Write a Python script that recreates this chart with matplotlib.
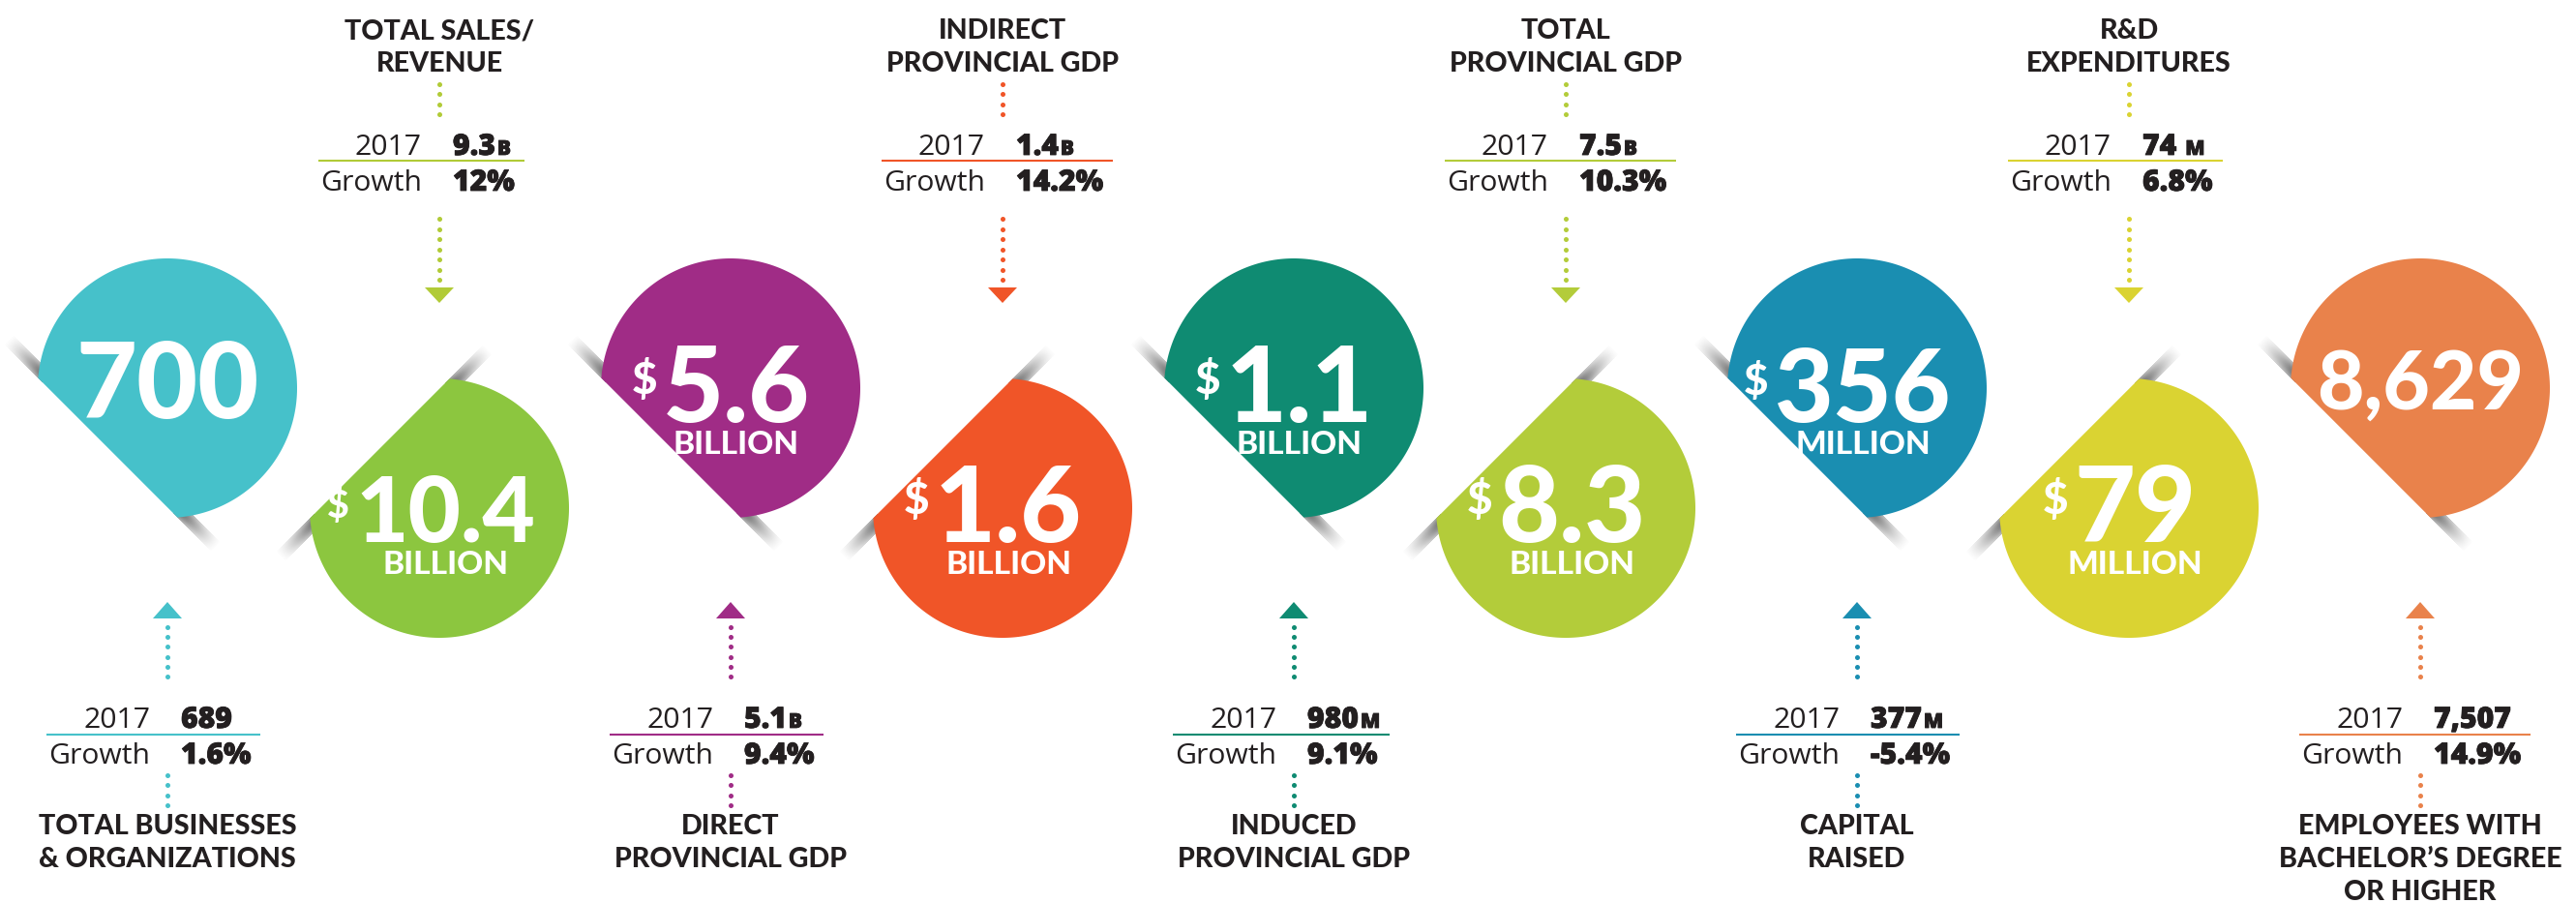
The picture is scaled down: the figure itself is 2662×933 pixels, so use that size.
import numpy as np
import matplotlib
matplotlib.use("Agg")
import matplotlib.pyplot as plt
from matplotlib.patches import Polygon
from matplotlib import font_manager as fm
import matplotlib.patheffects as pe

# ---------------- data ----------------
upper_values = ["700", "5.6", "1.1", "356", "8,629"]
upper_units = ["", "BILLION", "BILLION", "MILLION", ""]
upper_dollar = [False, True, True, True, False]
upper_titles = ["TOTAL BUSINESSES\n& ORGANIZATIONS", "DIRECT\nPROVINCIAL GDP",
                "INDUCED\nPROVINCIAL GDP", "CAPITAL\nRAISED",
                "EMPLOYEES WITH\nBACHELOR’S DEGREE\nOR HIGHER"]
upper_prev = ["689", "5.1", "980", "377", "7,507"]
upper_prev_unit = ["", "B", "M", "M", ""]
upper_growth = ["1.6%", "9.4%", "9.1%", "-5.4%", "14.9%"]

lower_values = ["10.4", "1.6", "8.3", "79"]
lower_units = ["BILLION", "BILLION", "BILLION", "MILLION"]
lower_dollar = [True, True, True, True]
lower_titles = ["TOTAL SALES/\nREVENUE", "INDIRECT\nPROVINCIAL GDP",
                "TOTAL\nPROVINCIAL GDP", "R&D\nEXPENDITURES"]
lower_prev = ["9.3", "1.4", "7.5", "74 "]
lower_prev_unit = ["B", "B", "B", "M"]
lower_growth = ["12%", "14.2%", "10.3%", "6.8%"]

year_label = "2017"
growth_label = "Growth"

# ---------------- style ----------------
upper_colors = ["#46C1CA", "#A02C86", "#0F8B72", "#1A8EB1", "#E9824B"]
lower_colors = ["#8CC63F", "#F05528", "#B3CC3A", "#DAD332"]
lower_line_colors = ["#B1CB37", "#F05528", "#B3CC3A", "#DAD332"]
TEXT = "#231F20"

W, H, DPI = 2662, 933, 100
PT = DPI / 72.0
R = 134.0
UPPER_CY, LOWER_CY = 401.0, 525.0
UPPER_X0, LOWER_X0, STEP = 173.0, 454.0, 582.0


def has_family(name):
    return any(f.name == name for f in fm.fontManager.ttflist)


def max_weight(name):
    ws = []
    for f in fm.fontManager.ttflist:
        if f.name == name:
            w = f.weight
            if isinstance(w, str):
                w = fm.weight_dict.get(w, 400)
            ws.append(int(w))
    return max(ws) if ws else 0


HEAVY = 'Lato' if has_family('Lato') else 'DejaVu Sans'
HEAVY_W = 900 if max_weight(HEAVY) >= 850 else 'bold'
EXTRA = 0.0 if HEAVY_W == 900 else 1.0   # thicken with a stroke if no black weight
BODY = 'Open Sans' if has_family('Open Sans') else ('Lato' if has_family('Lato') else 'DejaVu Sans')
CAP = 0.7165

fig = plt.figure(figsize=(W / DPI, H / DPI), dpi=DPI)
ax = fig.add_axes([0, 0, 1, 1])
ax.set_xlim(0, W)
ax.set_ylim(H, 0)
ax.axis('off')
rend = fig.canvas.get_renderer()


def ext(t):
    return t.get_window_extent(rend)


def thick(color, lw):
    if lw <= 0:
        return []
    return [pe.withStroke(linewidth=lw, foreground=color, capstyle='round', joinstyle='round')]


def fold_shadow(e, direction, n, L=50.0, w=13.0, back=6.0):
    corners = np.array([e - back * direction, e + L * direction,
                        e + L * direction + w * n, e - back * direction + w * n])
    x0, y0 = np.floor(corners.min(0)) - 1
    x1, y1 = np.ceil(corners.max(0)) + 1
    xs = np.arange(x0, x1) + 0.5
    ys = np.arange(y0, y1) + 0.5
    X, Y = np.meshgrid(xs, ys)
    dx, dy = X - e[0], Y - e[1]
    tt = dx * direction[0] + dy * direction[1]
    ss = dx * n[0] + dy * n[1]
    inside = (tt >= -back) & (tt <= L) & (ss >= 0) & (ss <= w)
    a = np.clip(1 - tt / L, 0, 1) ** 1.2 * (0.6 + 0.4 * np.sin(np.pi * np.clip(ss / w, 0, 1)))
    a = np.where(inside, a * 0.85, 0.0)
    img = np.zeros(X.shape + (4,))
    img[..., :3] = 0.33
    img[..., 3] = a
    ax.imshow(img, extent=(x0, x1, y1, y0), origin='upper',
              interpolation='bilinear', zorder=2, aspect='auto')


def sticker(cx, cy, color, t_u, d_ratio=0.65):
    phi = np.arccos(d_ratio)
    t = np.linspace(t_u + phi, t_u + 2 * np.pi - phi, 300)
    pts = np.column_stack([cx + R * np.cos(t), cy + R * np.sin(t)])
    ax.add_patch(Polygon(pts, closed=True, fc=color, ec='none', zorder=3))
    ea, eb = pts[0], pts[-1]
    n = -np.array([np.cos(t_u), np.sin(t_u)])
    da = (ea - eb) / np.linalg.norm(ea - eb)
    fold_shadow(ea, da, n)
    fold_shadow(eb, -da, n)


def big_number(cx, cy, value, unit, dollar):
    fs = 78.0 / (PT * CAP)
    off = 6 if dollar else 0
    t = ax.text(cx + off, 0, value, fontsize=fs, fontfamily=HEAVY, fontweight=HEAVY_W,
                color='white', ha='center', va='baseline', zorder=6,
                path_effects=thick('white', 5.0 * EXTRA))
    ds = None
    if dollar:
        ds = ax.text(0, 0, "$", fontsize=fs * 0.42, fontfamily=HEAVY, fontweight=HEAVY_W,
                     color='white', ha='right', va='baseline', zorder=6,
                     path_effects=thick('white', 2.0 * EXTRA))
    total = ext(t).width + ((ext(ds).width + 6) if ds is not None else 0)
    maxw = 214.0
    if total > maxw:
        fs *= maxw / total
        t.set_fontsize(fs)
        if ds is not None:
            ds.set_fontsize(fs * 0.42)
    cap = fs * PT * CAP
    if unit:
        base = cy + 35
    else:
        base = cy - 8 + cap / 2
    t.set_y(base)
    if ds is not None:
        left = ext(t).x0
        ds.set_position((left - 6, base - 0.27 * fs * PT))
    if unit:
        ax.text(cx + off, cy + 68, unit, fontsize=24.0 / (PT * CAP), fontfamily=HEAVY,
                fontweight=HEAVY_W, color='white', ha='center', va='baseline', zorder=6,
                path_effects=thick('white', 1.6 * EXTRA))


def dots(x, y0, y1, color, step=10.3):
    n = int(round((y1 - y0) / step)) + 1
    ys = np.linspace(y0, y1, n)
    ax.scatter(np.full(n, x), ys, s=13, c=color, linewidths=0, zorder=4)


def triangle(x, base, tip, color, half=15):
    ax.add_patch(Polygon([(x - half, base), (x + half, base), (x, tip)], closed=True,
                         fc=color, ec='none', zorder=4))


def table(cx, b1, sep, b2, prev, unit, growth, color):
    fs = 21.5 / (PT * 0.714)
    t1 = ax.text(cx - 18, b1, year_label, fontsize=fs, fontfamily=BODY, color=TEXT,
                 ha='right', va='baseline', zorder=5)
    t2 = ax.text(cx - 18, b2, growth_label, fontsize=fs, fontfamily=BODY, color=TEXT,
                 ha='right', va='baseline', zorder=5)
    v1 = ax.text(cx + 14, b1, prev.strip(), fontsize=fs, fontfamily=BODY, fontweight=800,
                 color=TEXT, ha='left', va='baseline', zorder=5,
                 path_effects=thick(TEXT, 0.6))
    v2 = ax.text(cx + 14, b2, growth, fontsize=fs, fontfamily=BODY, fontweight=800,
                 color=TEXT, ha='left', va='baseline', zorder=5,
                 path_effects=thick(TEXT, 0.6))
    right = max(ext(v1).x1, ext(v2).x1)
    if unit:
        gap = 9 if prev.endswith(' ') else 2
        u = ax.text(ext(v1).x1 + gap, b1, unit, fontsize=15.0 / (PT * 0.714), fontfamily=BODY,
                    fontweight=800, color=TEXT, ha='left', va='baseline', zorder=5,
                    path_effects=thick(TEXT, 0.6))
        right = max(right, ext(u).x1)
    left = min(ext(t1).x0, ext(t2).x0)
    ax.plot([left - 2, right + 10], [sep, sep], color=color, lw=1.5,
            solid_capstyle='butt', zorder=4)


def title(cx, centers, text):
    fs = 20.5 / (PT * CAP)
    cap = fs * PT * CAP
    for line, yc in zip(text.split("\n"), centers):
        ax.text(cx, yc + cap / 2, line, fontsize=fs, fontfamily=HEAVY, fontweight=HEAVY_W,
                color=TEXT, ha='center', va='baseline', zorder=5,
                path_effects=thick(TEXT, 1.3 * EXTRA))


# ---------------- upper stickers (annotations below) ----------------
for i in range(len(upper_values)):
    cx = UPPER_X0 + STEP * i
    col = upper_colors[i]
    sticker(cx, UPPER_CY, col, 3 * np.pi / 4)
    big_number(cx, UPPER_CY, upper_values[i], upper_units[i], upper_dollar[i])
    triangle(cx, 639, 622, col)
    dots(cx, 648, 699, col)
    table(cx, 752, 759, 789, upper_prev[i], upper_prev_unit[i], upper_growth[i], col)
    dots(cx, 801, 832, col)
    title(cx, [852, 886, 920], upper_titles[i])

# ---------------- lower stickers (annotations above) ----------------
for i in range(len(lower_values)):
    cx = LOWER_X0 + STEP * i
    col = lower_colors[i]
    lc = lower_line_colors[i]
    sticker(cx, LOWER_CY, col, 5 * np.pi / 4)
    big_number(cx, LOWER_CY, lower_values[i], lower_units[i], lower_dollar[i])
    title(cx, [30, 64], lower_titles[i])
    dots(cx, 87, 118, lc)
    table(cx, 160, 166, 197, lower_prev[i], lower_prev_unit[i], lower_growth[i], lc)
    dots(cx, 226, 289, lc)
    triangle(cx, 297, 313, lc)

ax.set_xlim(0, W)
ax.set_ylim(H, 0)
fig.savefig("out.png", dpi=DPI, facecolor='white')
